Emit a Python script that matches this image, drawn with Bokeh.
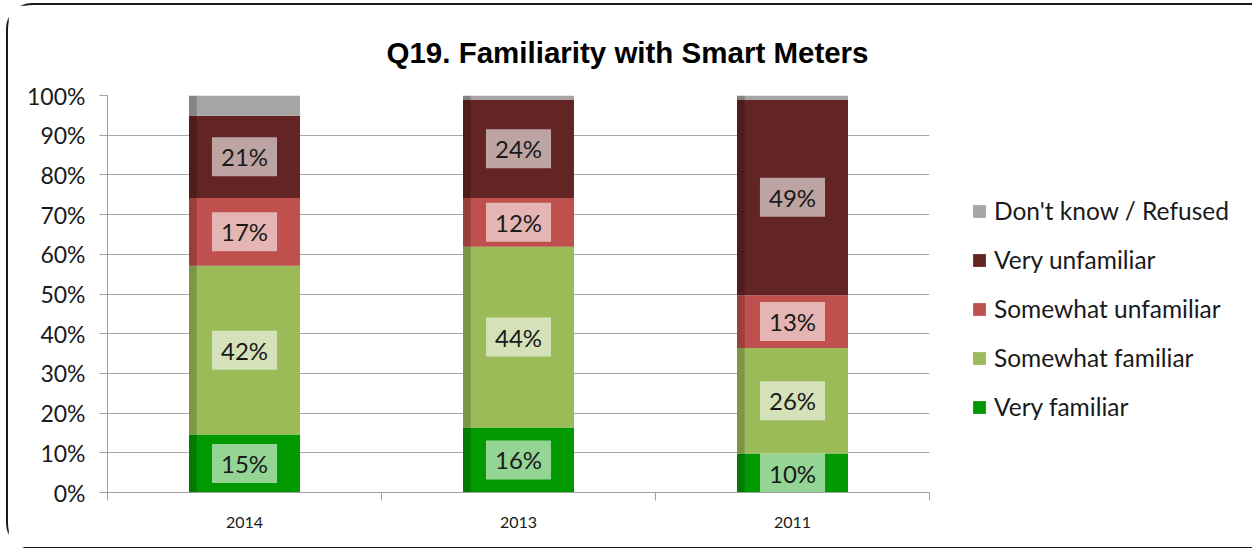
from bokeh.plotting import figure
from bokeh.models import (ColumnDataSource, Range1d, FixedTicker, PrintfTickFormatter,
                          Legend, LegendItem)
from bokeh.core.properties import value
from bokeh.embed import file_html
from bokeh.resources import INLINE

# ---- data (percent) ----
years = ["2014", "2013", "2011"]
series = ["Very familiar", "Somewhat familiar", "Somewhat unfamiliar", "Very unfamiliar", "Don't know / Refused"]
very_familiar = [14.6, 16.4, 9.8]
somewhat_familiar = [42.5, 45.5, 26.6]
somewhat_unfamiliar = [17.1, 12.3, 13.3]
very_unfamiliar = [20.7, 24.8, 49.3]
dont_know = [5.1, 1.0, 1.0]
label_very_familiar = ["15%", "16%", "10%"]
label_somewhat_familiar = ["42%", "44%", "26%"]
label_somewhat_unfamiliar = ["17%", "12%", "13%"]
label_very_unfamiliar = ["21%", "24%", "49%"]
y_ticks = [0, 10, 20, 30, 40, 50, 60, 70, 80, 90, 100]

colors = ["#009a00", "#9bbb59", "#c0504d", "#632523", "#a6a6a6"]
FONT = "Lato"

xs = [i + 0.5 for i in range(len(years))]
keys = ["vf", "sf", "su", "vu", "dk"]
data = dict(x=xs, vf=very_familiar, sf=somewhat_familiar, su=somewhat_unfamiliar,
            vu=very_unfamiliar, dk=dont_know)
src = ColumnDataSource(data)

p = figure(frame_width=822, frame_height=397, output_backend="svg", toolbar_location=None,
           x_range=Range1d(0, len(years)), y_range=Range1d(0, 100),
           min_border_left=99, min_border_right=323, min_border_top=90, min_border_bottom=55,
           title="Q19. Familiarity with Smart Meters")
p.styles = {"border": "2px solid #1a1a1a", "border-radius": "26px", "margin": "3px 0 0 6px"}
p.outline_line_color = None
p.background_fill_color = "white"
p.border_fill_color = "white"

p.title.text_font = "Liberation Sans"
p.title.text_font_style = "bold"
p.title.text_font_size = "29.5px"
p.title.text_color = "black"
p.title.align = "left"
p.title.offset = 279
p.title.standoff = 54

BW = 0.405
renderers = p.vbar_stack(keys, x="x", width=BW, color=colors, line_color=None, source=src)

# subtle left-edge shading on each segment
bottoms = [0.0] * len(years)
shade_x, shade_top, shade_bot = [], [], []
stacked = [very_familiar, somewhat_familiar, somewhat_unfamiliar, very_unfamiliar, dont_know]
for vals in stacked:
    for i, v in enumerate(vals):
        shade_x.append(xs[i] - BW / 2 + 0.014)
        shade_bot.append(bottoms[i])
        shade_top.append(bottoms[i] + v)
        bottoms[i] += v
p.vbar(x=shade_x, bottom=shade_bot, top=shade_top, width=0.028,
       fill_color="black", fill_alpha=0.2, line_color=None)

# data labels
lx, ly, lt = [], [], []
labels = [label_very_familiar, label_somewhat_familiar, label_somewhat_unfamiliar, label_very_unfamiliar]
base = [0.0] * len(years)
for vals, labs in zip(stacked[:4], labels):
    for i, v in enumerate(vals):
        lx.append(xs[i])
        ly.append(base[i] + v / 2)
        lt.append(labs[i])
        base[i] += v
lsrc = ColumnDataSource(dict(x=lx, y=ly, t=lt))
p.text(x="x", y="y", text="t", source=lsrc, text_align="center", text_baseline="middle",
       text_font=value(FONT), text_font_size="24px", text_color="#1a1a1a",
       background_fill_color="white", background_fill_alpha=0.58, padding=[9, 5])

# axes
p.yaxis.ticker = FixedTicker(ticks=y_ticks)
p.yaxis.formatter = PrintfTickFormatter(format="%d%%")
p.yaxis.major_label_text_font = FONT
p.yaxis.major_label_text_font_size = "23px"
p.yaxis.major_label_text_color = "#1a1a1a"
p.yaxis.axis_line_color = "#a0a0a0"
p.yaxis.major_tick_line_color = "#a0a0a0"
p.yaxis.major_tick_out = 8
p.yaxis.major_tick_in = 0
p.yaxis.minor_tick_line_color = None
p.yaxis.major_label_standoff = 14

p.xaxis.ticker = FixedTicker(ticks=xs, minor_ticks=list(range(len(years) + 1)))
p.xaxis.major_label_overrides = {x: y for x, y in zip(xs, years)}
p.xaxis.major_label_text_font = FONT
p.xaxis.major_label_text_font_size = "16px"
p.xaxis.major_label_text_color = "#1a1a1a"
p.xaxis.axis_line_color = "#a0a0a0"
p.xaxis.major_tick_line_color = None
p.xaxis.minor_tick_line_color = "#a0a0a0"
p.xaxis.minor_tick_out = 8
p.xaxis.minor_tick_in = 0
p.xaxis.major_label_standoff = 16

p.xgrid.grid_line_color = None
p.ygrid.grid_line_color = "#a6a6a6"
p.ygrid.grid_line_alpha = 1

# legend (reverse order), in the right panel
items = [LegendItem(label=series[k], renderers=[renderers[k]]) for k in range(len(series) - 1, -1, -1)]
legend = Legend(items=items, location=(42, 71), orientation="vertical",
                label_text_font=FONT, label_text_font_size="24.5px", label_text_color="#1a1a1a",
                glyph_width=16, glyph_height=16, label_height=26, spacing=20,
                label_standoff=7, padding=0, margin=0, border_line_color=None,
                background_fill_alpha=0)
p.add_layout(legend, "right")

open("out.html", "w").write(file_html(p, INLINE))
